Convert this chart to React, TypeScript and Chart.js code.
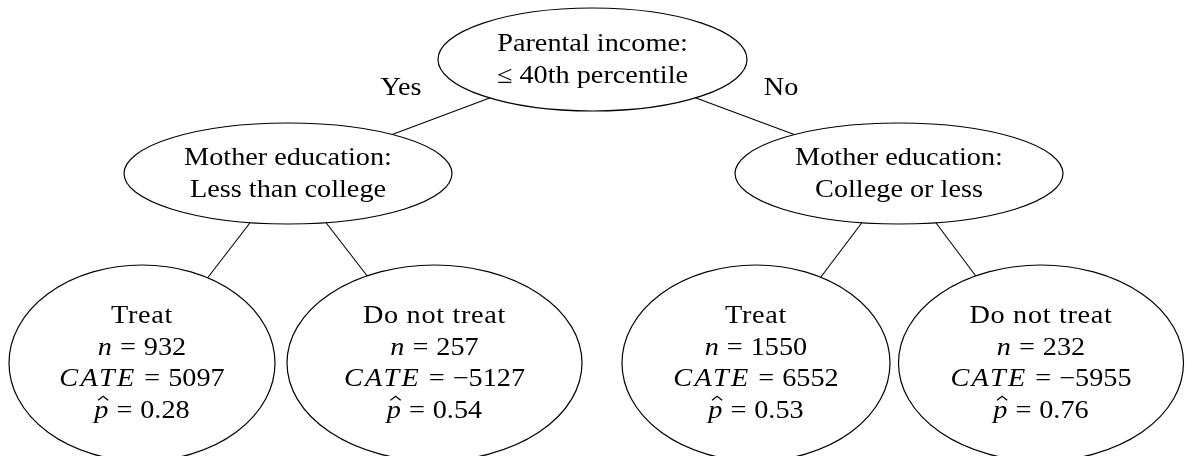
import { useEffect, useRef } from 'react';
import { Chart, registerables } from 'chart.js';

Chart.register(...registerables);

// ---- Tree data (coordinates in the diagram's own layout units) ----
const nodeIds = ['root', 'motherLow', 'motherHigh', 'leafA', 'leafB', 'leafC', 'leafD'];
const nodeX = [592.5, 288, 899, 142, 434.5, 756, 1041];
const nodeY = [59.5, 173.5, 173.5, 363, 363, 363, 363];
const nodeParent = [-1, 0, 0, 1, 1, 2, 2];
const splitLabels = [
  ['Parental income:', '≤ 40th percentile'],
  ['Mother education:', 'Less than college'],
  ['Mother education:', 'College or less'],
];
const branchLabels = ['Yes', 'No'];
const branchLabelX = [401, 781];
const branchLabelY = [87, 87];
const leafDecision = ['Treat', 'Do not treat', 'Treat', 'Do not treat'];
const leafN = [932, 257, 1550, 232];
const leafCATE = [5097, -5127, 6552, -5955];
const leafP = [0.28, 0.54, 0.53, 0.76];

// ---- Styles ----
const NODE_RX = [154.5, 164, 164, 133, 147.5, 134, 142.5];
const NODE_RY = [51.5, 50.5, 50.5, 98, 98, 98, 98];
const FS = 25;
const SX = 1.13;
const FAMILY = '"Liberation Serif", "Times New Roman", serif';
const LINE_H = 31.5;

type Run = { t?: string; it?: boolean; gap?: number; ls?: number; hat?: boolean };

function fontFor(r: Run) {
  return `${r.it ? 'italic ' : ''}${FS}px ${FAMILY}`;
}

function drawRuns(ctx: CanvasRenderingContext2D, runs: Run[], cx: number, baseline: number) {
  const widths = runs.map((r) => {
    if (r.gap) return r.gap * FS;
    ctx.font = fontFor(r);
    (ctx as any).letterSpacing = r.ls ? `${r.ls}px` : '0px';
    return ctx.measureText(r.t || '').width;
  });
  const w = widths.reduce((a, b) => a + b, 0);
  ctx.save();
  ctx.translate(cx, baseline);
  ctx.scale(SX, 1);
  ctx.textAlign = 'left';
  ctx.textBaseline = 'alphabetic';
  ctx.fillStyle = '#000';
  let x = -w / 2;
  runs.forEach((r, i) => {
    if (!r.gap) {
      ctx.font = fontFor(r);
      (ctx as any).letterSpacing = r.ls ? `${r.ls}px` : '0px';
      ctx.fillText(r.t || '', x, 0);
      if (r.hat) {
        const hx = x + widths[i] / 2 + 1.5;
        ctx.beginPath();
        ctx.moveTo(hx - 4.5, -17.5);
        ctx.lineTo(hx, -21.5);
        ctx.lineTo(hx + 4.5, -17.5);
        ctx.lineWidth = 1.1;
        ctx.strokeStyle = '#000';
        ctx.stroke();
      }
    }
    x += widths[i];
  });
  (ctx as any).letterSpacing = '0px';
  ctx.restore();
}

function fmtSigned(v: number) {
  return `${v < 0 ? '\u2212' : ''}${Math.abs(v)}`;
}

function leafLines(j: number): Run[][] {
  return [
    [{ t: leafDecision[j], ls: 0.6 }],
    [{ t: 'n', it: true }, { gap: 0.28 }, { t: '=' }, { gap: 0.28 }, { t: String(leafN[j]) }],
    [{ t: 'CATE', it: true, ls: 2 }, { gap: 0.28 }, { t: '=' }, { gap: 0.28 }, { t: fmtSigned(leafCATE[j]) }],
    [{ t: 'p', it: true, hat: true }, { gap: 0.28 }, { t: '=' }, { gap: 0.28 }, { t: leafP[j].toFixed(2) }],
  ];
}

const treePlugin = {
  id: 'treeNodes',
  afterDatasetsDraw(chart: any) {
    const ctx: CanvasRenderingContext2D = chart.ctx;
    const xs = chart.scales.x;
    const ys = chart.scales.y;
    ctx.save();
    nodeIds.forEach((_, i) => {
      const cx = xs.getPixelForValue(nodeX[i]);
      const cy = ys.getPixelForValue(nodeY[i]);
      ctx.beginPath();
      ctx.ellipse(cx, cy, NODE_RX[i], NODE_RY[i], 0, 0, Math.PI * 2);
      ctx.fillStyle = '#fff';
      ctx.fill();
      ctx.lineWidth = 1.2;
      ctx.strokeStyle = '#000';
      ctx.stroke();
      const lines: Run[][] = i < 3 ? splitLabels[i].map((s) => [{ t: s }]) : leafLines(i - 3);
      const n = lines.length;
      lines.forEach((runs, k) => {
        drawRuns(ctx, runs, cx, cy + (k - (n - 1) / 2) * LINE_H + 7.5);
      });
    });
    branchLabels.forEach((lab, i) => {
      drawRuns(ctx, [{ t: lab }], xs.getPixelForValue(branchLabelX[i]), ys.getPixelForValue(branchLabelY[i]) + 8);
    });
    ctx.restore();
  },
};

export default function App() {
  const ref = useRef<HTMLCanvasElement | null>(null);
  useEffect(() => {
    if (!ref.current) return;
    const edgeDatasets = nodeParent
      .map((p, i) => ({ p, i }))
      .filter((e) => e.p >= 0)
      .map((e) => ({
        type: 'scatter' as const,
        label: `${nodeIds[e.p]}-${nodeIds[e.i]}`,
        data: [
          { x: nodeX[e.p], y: nodeY[e.p] },
          { x: nodeX[e.i], y: nodeY[e.i] },
        ],
        showLine: true,
        borderColor: '#000',
        borderWidth: 1.1,
        pointRadius: 0,
        fill: false,
      }));
    const chart = new Chart(ref.current, {
      type: 'scatter',
      data: {
        datasets: [
          ...edgeDatasets,
          {
            label: 'nodes',
            data: nodeIds.map((_, i) => ({ x: nodeX[i], y: nodeY[i] })),
            pointRadius: 0,
            showLine: false,
          },
        ],
      },
      options: {
        animation: false,
        responsive: false,
        maintainAspectRatio: false,
        layout: { padding: 0 },
        events: [],
        scales: {
          x: { type: 'linear', min: 0, max: 1187, display: false },
          y: { type: 'linear', min: 0, max: 456, reverse: true, display: false },
        },
        plugins: {
          legend: { display: false },
          tooltip: { enabled: false },
        },
      },
      plugins: [treePlugin],
    });
    return () => chart.destroy();
  }, []);
  return (
    <div style={{ position: 'fixed', left: 0, top: 0, width: 1187, height: 456, background: '#fff' }}>
      <canvas ref={ref} width={1187} height={456} style={{ width: 1187, height: 456, display: 'block' }} />
    </div>
  );
}
